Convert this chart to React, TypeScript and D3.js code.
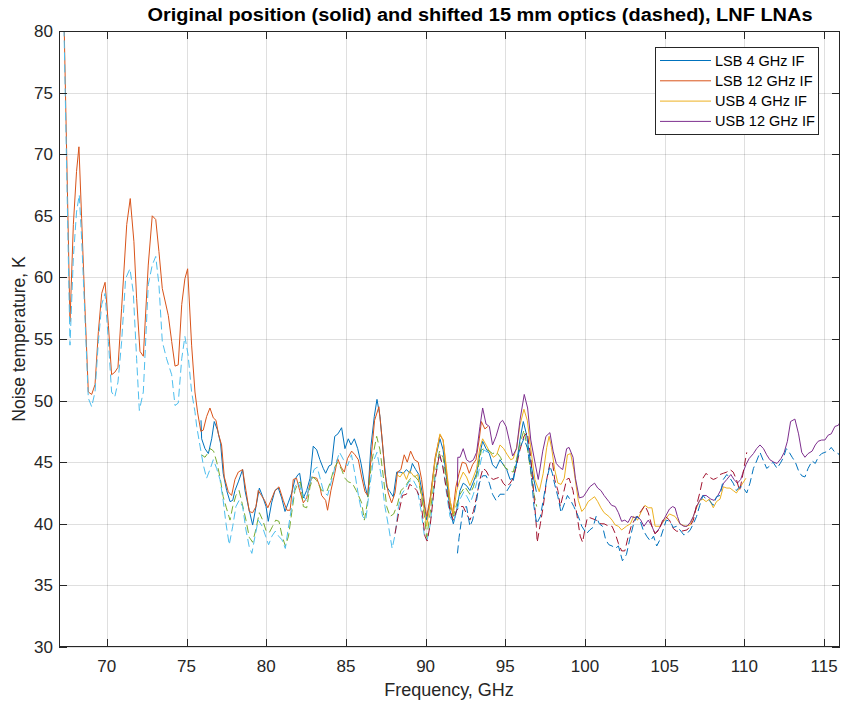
import React from "react";
import * as d3 from "d3";

type P = [number, number];

const xTicks = [70, 75, 80, 85, 90, 95, 100, 105, 110, 115];
const yTicks = [30, 35, 40, 45, 50, 55, 60, 65, 70, 75, 80];
const legendLabels = ["LSB 4 GHz IF", "LSB 12 GHz IF", "USB 4 GHz IF", "USB 12 GHz IF"];
const solidColors = ["#0072BD", "#D95319", "#EDB120", "#7E2F8E"];
const dashedColors = ["#77AC30", "#4DBEEE", "#A2142F", "#0072BD"];

// Solid: original position
const lsb4: P[] = [[75.91,48.4],[75.95,46.9],[76.16,46.1],[76.37,45.7],[76.58,46.9],[76.74,48.3],[76.95,47.6],[77.14,46.5],[77.3,44.1],[77.52,42.7],[77.73,41.8],[77.9,41.9],[78.04,42.7],[78.25,43.4],[78.52,44.4],[78.67,42.7],[78.88,41.4],[79.15,39.9],[79.36,41.4],[79.57,42.9],[79.78,42.2],[79.99,41.4],[80.13,40.2],[80.34,41.7],[80.55,42.7],[80.76,42.9],[80.97,42.1],[81.18,41.0],[81.38,41.7],[81.6,42.5],[81.8,43.6],[82.0,44.0],[82.1,44.1],[82.33,42.1],[82.54,42.7],[82.75,43.7],[82.95,46.3],[83.17,46.0],[83.37,45.2],[83.58,44.5],[83.73,44.1],[83.94,44.7],[84.1,44.8],[84.3,47.1],[84.5,47.3],[84.73,47.8],[84.94,46.1],[85.15,46.9],[85.32,46.4],[85.53,46.9],[85.74,46.1],[85.95,44.9],[86.16,43.3],[86.37,42.2],[86.57,46.3],[86.78,48.7],[86.95,50.1],[87.14,48.7],[87.35,45.7],[87.56,43.0],[87.77,42.6],[87.97,42.2],[88.19,44.2],[88.4,44.2],[88.6,44.1],[88.8,44.4],[89.02,44.1],[89.17,44.9],[89.38,44.4],[89.58,44.0],[89.79,42.5],[90.07,40.3],[90.28,41.9],[90.6,45.2],[90.9,46.9],[91.1,46.0],[91.32,43.6],[91.53,41.1],[91.74,40.0],[91.95,41.1],[92.16,42.7],[92.36,43.3],[92.57,43.1],[92.78,42.7],[93.0,43.4],[93.2,44.1],[93.41,45.7],[93.58,46.7],[93.79,46.1],[94.0,45.7],[94.2,44.8],[94.42,44.5],[94.67,45.2],[94.87,44.8],[95.09,44.4],[95.3,43.6],[95.5,43.7],[95.71,44.9],[95.92,46.8],[96.13,48.3],[96.34,47.2],[96.55,45.3],[96.76,43.8],[96.95,42.6]];

const lsb12: P[] = [[67.2,88.5],[67.69,56.4],[67.9,64.3],[68.1,68.6],[68.25,70.6],[68.42,64.8],[68.63,57.5],[68.84,50.7],[69.05,50.5],[69.26,51.3],[69.47,55.6],[69.68,58.7],[69.89,59.6],[70.1,56.1],[70.3,52.1],[70.5,52.3],[70.7,52.7],[70.93,57.5],[71.25,64.3],[71.47,66.4],[71.7,62.9],[71.87,58.3],[72.08,54.0],[72.29,53.6],[72.6,61.0],[72.85,65.0],[73.07,64.7],[73.27,62.1],[73.48,59.1],[73.86,56.9],[74.07,54.8],[74.28,52.8],[74.48,52.9],[74.7,57.8],[74.9,59.9],[75.07,60.7],[75.32,54.5],[75.53,50.7],[75.7,49.0],[75.9,47.5],[76.05,47.6],[76.26,48.7],[76.47,49.4],[76.68,48.6],[76.85,48.4],[77.0,47.3],[77.2,46.4],[77.37,43.8],[77.62,42.6],[77.83,42.3],[78.04,43.6],[78.25,44.2],[78.52,44.4],[78.73,42.7],[78.94,41.0],[79.15,40.9],[79.36,41.4],[79.5,42.7],[79.7,42.3],[79.9,41.9],[80.1,41.3],[80.3,41.9],[80.55,42.7],[80.8,43.0],[81.07,41.9],[81.3,41.1],[81.5,41.1],[81.7,43.6],[81.9,43.7],[82.1,42.7],[82.33,41.7],[82.54,42.1],[82.85,43.8],[83.17,43.7],[83.37,43.0],[83.48,42.3],[83.73,41.9],[83.85,41.1],[84.06,42.7],[84.3,44.1],[84.48,45.3],[84.7,44.6],[84.9,44.2],[85.1,45.3],[85.36,45.9],[85.57,45.6],[85.78,45.2],[85.99,43.8],[86.2,42.6],[86.37,42.3],[86.57,45.2],[86.8,48.4],[87.07,49.5],[87.28,46.8],[87.45,44.1],[87.66,42.5],[87.87,41.7],[88.08,42.5],[88.24,44.2],[88.45,44.4],[88.66,45.6],[88.85,45.0],[89.06,45.9],[89.3,45.2],[89.54,45.0],[89.75,43.6],[89.96,41.4],[90.07,40.6],[90.3,42.2],[90.6,45.4],[90.9,47.2],[91.1,46.8],[91.32,44.1],[91.53,41.9],[91.7,40.8],[91.9,43.0],[92.1,44.1],[92.3,45.0],[92.53,44.9],[92.74,44.1],[92.95,44.8],[93.16,45.2],[93.37,46.9],[93.5,48.3],[93.72,47.7],[93.9,47.9]];

const usb4: P[] = [[88.19,44.0],[88.4,43.8],[88.6,44.2],[88.8,43.6],[89.0,44.3],[89.3,43.8],[89.5,44.0],[89.8,42.0],[90.07,39.8],[90.28,41.6],[90.6,45.2],[90.9,47.3],[91.1,46.8],[91.32,44.4],[91.53,41.9],[91.74,40.8],[91.95,42.7],[92.16,43.6],[92.36,44.2],[92.57,43.8],[92.78,43.1],[93.0,43.8],[93.2,44.5],[93.41,46.2],[93.58,46.9],[93.79,46.4],[94.0,45.9],[94.25,45.4],[94.46,45.6],[94.67,46.4],[94.9,46.1],[95.13,45.6],[95.34,45.2],[95.5,45.3],[95.71,46.2],[95.92,48.0],[96.17,49.3],[96.38,48.4],[96.65,45.6],[96.86,43.6],[97.13,42.6],[97.38,44.1],[97.6,46.2],[97.75,47.1],[97.9,46.2],[98.1,44.4],[98.3,43.3],[98.5,43.2],[98.7,43.7],[98.9,45.6],[99.1,45.7],[99.3,44.4],[99.58,41.9],[99.8,41.0],[100.0,41.3],[100.2,41.8],[100.4,42.0],[100.6,42.2],[100.8,41.8],[101.0,41.3],[101.2,40.9],[101.5,40.6],[101.7,40.3],[101.9,39.9],[102.1,39.8],[102.3,39.5],[102.6,39.8],[102.85,40.0],[103.05,40.6],[103.3,40.3],[103.5,40.9],[103.76,41.5],[103.97,41.3],[104.2,41.3],[104.4,39.8],[104.7,39.8],[105.0,40.3],[105.3,40.8],[105.65,40.6],[105.96,40.0],[106.3,39.8],[106.6,39.9],[106.8,40.6],[107.0,41.3],[107.2,41.9],[107.4,42.0],[107.6,41.8],[107.8,42.0],[108.05,41.3],[108.25,41.8],[108.47,42.0],[108.68,43.0],[108.9,42.9],[109.1,42.9],[109.3,42.7],[109.5,42.5],[109.7,42.9],[109.9,43.3],[110.1,43.7]];

const usb12: P[] = [[92.0,43.0],[92.02,45.4],[92.16,45.4],[92.36,46.1],[92.57,45.2],[92.78,45.0],[93.0,45.2],[93.2,45.8],[93.41,47.9],[93.58,49.4],[93.79,48.1],[94.0,47.9],[94.2,46.4],[94.42,47.1],[94.67,48.2],[94.83,48.4],[95.05,47.9],[95.26,46.7],[95.46,45.5],[95.71,46.1],[95.92,48.4],[96.19,50.5],[96.4,49.4],[96.6,46.8],[96.86,45.0],[97.07,43.6],[97.35,45.9],[97.55,47.1],[97.8,47.4],[98.0,45.9],[98.2,44.9],[98.4,44.6],[98.6,44.4],[98.85,46.1],[99.0,46.2],[99.25,45.4],[99.4,43.7],[99.64,42.1],[99.9,42.2],[100.1,42.6],[100.3,43.0],[100.6,43.3],[100.8,42.9],[101.0,42.7],[101.2,42.3],[101.5,41.8],[101.67,41.5],[101.9,41.4],[102.1,40.9],[102.3,40.2],[102.5,40.3],[102.7,40.1],[102.9,40.6],[103.1,40.5],[103.3,40.6],[103.5,40.3],[103.7,39.8],[103.97,40.3],[104.2,39.8],[104.39,39.2],[104.65,39.6],[104.85,40.1],[105.05,40.6],[105.3,41.2],[105.5,41.4],[105.65,41.3],[105.8,40.6],[105.96,40.0],[106.2,39.8],[106.4,39.8],[106.6,40.1],[106.8,40.6],[107.0,41.4],[107.2,41.9],[107.4,42.3],[107.6,42.3],[107.9,42.0],[108.1,41.9],[108.3,42.2],[108.5,42.7],[108.7,43.3],[108.9,43.6],[109.15,44.0],[109.35,43.6],[109.56,43.3],[109.77,43.6],[109.9,44.1],[110.1,44.8],[110.3,45.3],[110.57,45.7],[110.77,46.1],[110.98,46.4],[111.2,46.1],[111.4,45.6],[111.6,45.2],[111.85,45.0],[112.05,44.9],[112.3,45.3],[112.5,45.8],[112.7,46.7],[112.9,48.3],[113.17,48.5],[113.4,47.3],[113.6,45.8],[113.8,45.4],[114.0,45.7],[114.25,45.9],[114.45,46.4],[114.63,46.7],[114.85,46.8],[115.05,46.8],[115.26,47.2],[115.45,47.3],[115.68,47.9],[115.9,48.0],[116.1,48.5]];

// Dashed: shifted 15 mm optics
const lsb4Shift: P[] = [[75.95,45.6],[76.16,45.4],[76.37,45.8],[76.5,46.1],[76.7,45.9],[76.9,45.0],[77.1,43.8],[77.3,42.2],[77.5,41.3],[77.73,40.3],[77.9,41.4],[78.1,42.3],[78.3,42.7],[78.5,41.6],[78.73,40.3],[78.94,38.9],[79.15,38.5],[79.36,39.6],[79.57,40.9],[79.78,40.3],[80.0,39.4],[80.2,39.3],[80.4,39.8],[80.6,40.3],[80.8,40.2],[81.0,39.0],[81.2,38.2],[81.4,39.0],[81.6,40.9],[81.8,42.7],[82.0,43.3],[82.15,43.4],[82.33,41.4],[82.54,41.3],[82.75,43.0],[82.95,43.8],[83.17,43.5],[83.48,42.7],[83.8,42.6],[84.0,43.3],[84.26,44.5],[84.48,45.0],[84.73,44.4],[84.94,43.7],[85.15,43.4],[85.4,43.3],[85.65,42.7],[85.99,41.7],[86.16,40.3],[86.37,41.9],[86.6,44.9],[86.93,47.1],[87.14,46.0],[87.35,43.8],[87.56,41.4],[87.77,40.6],[88.0,40.8],[88.24,41.6],[88.45,42.7],[88.7,43.0],[89.0,43.6],[89.3,43.9],[89.55,43.5],[89.75,42.2],[89.96,40.3],[90.07,38.9],[90.28,40.8],[90.6,44.1],[90.87,45.9],[91.1,45.4],[91.32,43.3],[91.53,41.4],[91.74,40.6],[91.95,41.6],[92.16,42.4],[92.47,43.0],[92.78,42.4],[93.0,43.0],[93.24,44.1],[93.5,46.0],[93.7,46.1],[93.9,46.0],[94.2,45.7],[94.46,45.8],[94.7,45.4],[94.97,44.6],[95.26,44.3],[95.5,44.2],[95.7,45.2],[95.92,46.5],[96.17,47.6],[96.38,46.2],[96.6,44.2],[96.8,42.4],[96.97,41.4]];

const lsb12Shift: P[] = [[67.2,88.0],[67.69,54.5],[67.9,61.6],[68.1,65.3],[68.27,66.7],[68.42,63.2],[68.63,56.7],[68.84,50.2],[69.05,49.5],[69.26,50.7],[69.47,54.8],[69.68,57.8],[69.89,58.7],[70.1,54.8],[70.3,50.7],[70.5,50.3],[70.7,51.5],[70.93,54.8],[71.18,59.9],[71.45,60.7],[71.66,58.8],[71.87,53.4],[72.04,49.2],[72.29,50.7],[72.6,59.4],[72.85,61.0],[73.07,61.7],[73.27,59.4],[73.48,54.8],[73.75,53.4],[74.07,52.1],[74.28,49.6],[74.48,49.8],[74.7,53.4],[74.9,55.2],[75.1,53.7],[75.32,50.7],[75.53,49.1],[75.64,47.9],[75.85,46.3],[76.05,44.8],[76.26,43.7],[76.47,44.4],[76.68,45.2],[76.89,44.5],[77.1,43.6],[77.3,41.9],[77.48,40.0],[77.68,38.3],[77.9,39.8],[78.1,41.4],[78.3,41.9],[78.52,41.4],[78.73,39.5],[78.94,38.1],[79.1,37.6],[79.3,39.0],[79.5,40.3],[79.75,39.8],[79.96,39.0],[80.15,38.3],[80.36,39.0],[80.57,39.4],[80.78,39.0],[80.99,38.7],[81.2,38.0],[81.37,39.5],[81.6,41.4],[81.8,43.0],[82.0,43.4],[82.25,42.5],[82.5,41.9],[82.75,43.3],[83.0,44.4],[83.2,44.6],[83.4,43.6],[83.6,42.6],[83.85,42.3],[84.1,43.5],[84.35,44.8],[84.6,45.8],[84.85,45.2],[85.1,44.7],[85.35,45.6],[85.6,43.8],[85.8,42.2],[86.05,40.6],[86.25,40.3],[86.45,42.5],[86.7,45.0],[86.95,45.8],[87.2,44.0],[87.45,41.4],[87.7,39.6],[87.9,38.0],[88.1,39.2],[88.3,41.4],[88.5,42.4],[88.7,42.8],[88.95,43.4],[89.2,43.6],[89.45,43.0],[89.7,41.2],[89.95,38.8],[90.1,38.7],[90.3,40.0],[90.6,43.8],[90.88,45.5],[91.1,44.6],[91.32,42.4],[91.53,40.6],[91.74,40.1],[91.95,41.0],[92.16,42.0],[92.4,42.6],[92.6,42.2],[92.8,41.7],[93.0,42.4],[93.2,43.3],[93.45,45.0],[93.65,46.0],[93.9,45.8]];

const usb4Shift: P[] = [[88.08,39.2],[88.3,40.8],[88.55,42.3],[88.8,42.4],[89.0,43.2],[89.25,43.0],[89.45,42.7],[89.7,41.9],[89.96,39.0],[90.1,38.6],[90.3,40.0],[90.6,43.6],[90.87,45.7],[91.07,44.7],[91.32,42.7],[91.53,41.1],[91.74,40.3],[91.95,41.1],[92.16,41.4],[92.36,41.4],[92.57,40.8],[92.78,40.3],[93.0,41.0],[93.2,42.2],[93.41,43.6],[93.6,44.5],[93.8,44.3],[94.0,43.8],[94.25,43.6],[94.46,43.7],[94.67,43.8],[94.87,43.3],[95.09,43.0],[95.3,43.3],[95.5,43.7],[95.7,44.7],[95.92,46.0],[96.17,47.1],[96.38,47.4],[96.6,45.4],[96.8,42.2],[96.95,39.8],[97.0,38.5],[97.2,40.0],[97.38,41.4],[97.6,43.6],[97.8,44.9],[97.95,45.1],[98.1,43.6],[98.3,42.7],[98.45,41.4],[98.6,42.2],[98.85,43.6],[99.0,43.7],[99.25,42.7],[99.45,41.1],[99.7,39.0],[99.85,38.5],[100.0,39.6],[100.15,40.5],[100.3,40.5],[100.5,40.4],[100.7,40.3],[101.0,40.0],[101.2,40.0],[101.5,39.8],[101.7,39.8],[101.9,39.2],[102.1,38.4],[102.3,37.8],[102.5,37.8],[102.7,38.9],[102.9,39.8],[103.1,40.3],[103.3,40.6],[103.55,41.1],[103.76,41.5],[103.97,40.9],[104.2,39.8],[104.4,39.2],[104.65,39.5],[104.85,40.2],[105.05,40.6],[105.3,40.3],[105.55,39.6],[105.75,39.4],[106.05,39.4],[106.4,39.5],[106.6,39.8],[106.8,40.3],[107.0,41.5],[107.2,42.5],[107.4,43.7],[107.6,44.1],[107.8,43.8],[108.05,43.6],[108.25,43.7],[108.47,44.0],[108.68,44.1],[108.9,44.2],[109.1,44.4],[109.3,44.2],[109.5,43.6],[109.7,42.7],[109.85,43.6],[110.05,45.1],[110.15,45.8]];

const usb12Shift: P[] = [[92.0,37.6],[92.1,38.9],[92.36,41.3],[92.57,41.4],[92.78,39.8],[92.95,40.3],[93.16,41.6],[93.37,43.3],[93.58,43.9],[93.8,43.9],[94.0,43.3],[94.2,42.4],[94.42,41.9],[94.67,42.4],[94.97,42.4],[95.26,43.0],[95.5,43.5],[95.7,44.9],[95.92,46.2],[96.17,46.9],[96.38,46.2],[96.6,44.4],[96.8,41.4],[96.97,40.0],[97.2,40.6],[97.38,41.9],[97.6,43.6],[97.8,44.7],[97.95,44.1],[98.1,43.2],[98.3,42.2],[98.5,40.9],[98.7,41.6],[98.9,42.3],[99.1,41.9],[99.3,41.4],[99.58,40.6],[99.8,39.8],[100.1,39.2],[100.3,39.5],[100.5,39.7],[100.7,40.6],[100.9,40.0],[101.1,39.8],[101.3,38.7],[101.5,38.3],[101.7,38.2],[101.9,38.0],[102.1,38.2],[102.35,37.0],[102.6,37.5],[102.8,38.7],[103.05,40.0],[103.25,40.6],[103.45,40.3],[103.65,39.5],[103.87,39.0],[104.1,38.6],[104.3,39.0],[104.5,38.2],[104.7,38.7],[104.9,39.5],[105.1,40.3],[105.33,40.2],[105.54,39.7],[105.75,39.8],[105.96,39.5],[106.2,39.1],[106.4,39.2],[106.6,39.5],[106.8,40.0],[107.0,40.6],[107.2,41.5],[107.4,42.3],[107.6,42.0],[107.8,41.9],[108.05,41.5],[108.25,42.2],[108.47,42.3],[108.68,43.6],[108.9,44.0],[109.1,43.7],[109.3,43.3],[109.5,42.7],[109.7,43.0],[109.9,43.0],[110.15,42.5],[110.35,43.3],[110.57,44.5],[110.77,45.1],[110.98,45.8],[111.2,45.1],[111.4,44.5],[111.6,44.7],[111.8,45.0],[112.05,44.5],[112.25,44.9],[112.46,45.4],[112.63,46.1],[112.77,45.9],[113.0,45.4],[113.2,45.0],[113.4,44.3],[113.6,43.9],[113.8,43.8],[114.0,44.5],[114.25,45.1],[114.45,44.9],[114.63,45.4],[114.85,45.7],[115.05,45.8],[115.26,45.9],[115.45,46.2],[115.68,45.8],[115.9,45.7],[116.1,45.3]];

const solidSeries = [lsb4, lsb12, usb4, usb12];
const dashedSeries = [lsb4Shift, lsb12Shift, usb4Shift, usb12Shift];

const W = 841, H = 701;
const M = { left: 59, right: 840, top: 31, bottom: 647 };
const AX = "#262626";
const FONT = "'Liberation Sans', Arial, Helvetica, sans-serif";

export default function App() {
  const x = d3.scaleLinear().domain([67, 116]).range([M.left, M.right]);
  const y = d3.scaleLinear().domain([30, 80]).range([M.bottom, M.top]);
  const line = d3.line<P>().x((d) => x(d[0])).y((d) => y(d[1]));
  const tick = 8;

  return (
    <div style={{ position: "absolute", left: 0, top: 0, width: W, height: H, background: "#fff" }}>
      <svg width={W} height={H} style={{ display: "block", fontFamily: FONT }}>
        <defs>
          <clipPath id="plot">
            <rect x={M.left} y={M.top} width={M.right - M.left} height={M.bottom - M.top} />
          </clipPath>
        </defs>
        <rect x={0} y={0} width={W} height={H} fill="#fff" />
        <g stroke={AX} strokeOpacity={0.15} strokeWidth={1}>
          {xTicks.map((t) => (
            <line key={"gx" + t} x1={Math.round(x(t)) + 0.5} x2={Math.round(x(t)) + 0.5} y1={M.top} y2={M.bottom} />
          ))}
          {yTicks.map((t) => (
            <line key={"gy" + t} x1={M.left} x2={M.right} y1={Math.round(y(t)) + 0.5} y2={Math.round(y(t)) + 0.5} />
          ))}
        </g>
        <g clipPath="url(#plot)" fill="none" strokeWidth={1}>
          {solidSeries.map((s, i) => (
            <path key={"s" + i} d={line(s) || ""} stroke={solidColors[i]} />
          ))}
          {dashedSeries.map((s, i) => (
            <path key={"d" + i} d={line(s) || ""} stroke={dashedColors[i]} strokeDasharray="8,4" />
          ))}
        </g>
        <rect x={M.left + 0.5} y={M.top + 0.5} width={M.right - M.left - 1} height={M.bottom - M.top - 1} fill="none" stroke={AX} strokeWidth={1} />
        <g stroke={AX} strokeWidth={1}>
          {xTicks.map((t) => {
            const px = Math.round(x(t)) + 0.5;
            return (
              <g key={"tx" + t}>
                <line x1={px} x2={px} y1={M.bottom} y2={M.bottom - tick} />
                <line x1={px} x2={px} y1={M.top} y2={M.top + tick} />
              </g>
            );
          })}
          {yTicks.map((t) => {
            const py = Math.round(y(t)) + 0.5;
            return (
              <g key={"ty" + t}>
                <line x1={M.left} x2={M.left + tick} y1={py} y2={py} />
                <line x1={M.right} x2={M.right - tick} y1={py} y2={py} />
              </g>
            );
          })}
        </g>
        <g fill={AX} fontSize={17}>
          {xTicks.map((t) => (
            <text key={"lx" + t} x={x(t)} y={M.bottom + 25} textAnchor="middle">{t}</text>
          ))}
          {yTicks.map((t) => (
            <text key={"ly" + t} x={M.left - 6} y={y(t) + 6} textAnchor="end">{t}</text>
          ))}
        </g>
        <text x={449} y={696} textAnchor="middle" fontSize={18} fill={AX}>Frequency, GHz</text>
        <text transform={`translate(25, ${(M.top + M.bottom) / 2}) rotate(-90)`} textAnchor="middle" fontSize={17.5} fill={AX}>Noise temperature, K</text>
        <text x={480} y={21} textAnchor="middle" fontSize={18} fontWeight="bold" fill="#000" textLength={665} lengthAdjust="spacingAndGlyphs">Original position (solid) and shifted 15 mm optics (dashed), LNF LNAs</text>
        <g>
          <rect x={655.5} y={47.5} width={163} height={87} fill="#fff" stroke={AX} strokeWidth={1} />
          {legendLabels.map((lab, i) => {
            const ly = 60.5 + i * 20.3;
            return (
              <g key={lab}>
                <line x1={660} x2={711} y1={ly} y2={ly} stroke={solidColors[i]} strokeWidth={1} />
                <text x={715} y={ly + 5} fontSize={14.5} fill="#000">{lab}</text>
              </g>
            );
          })}
        </g>
      </svg>
    </div>
  );
}
